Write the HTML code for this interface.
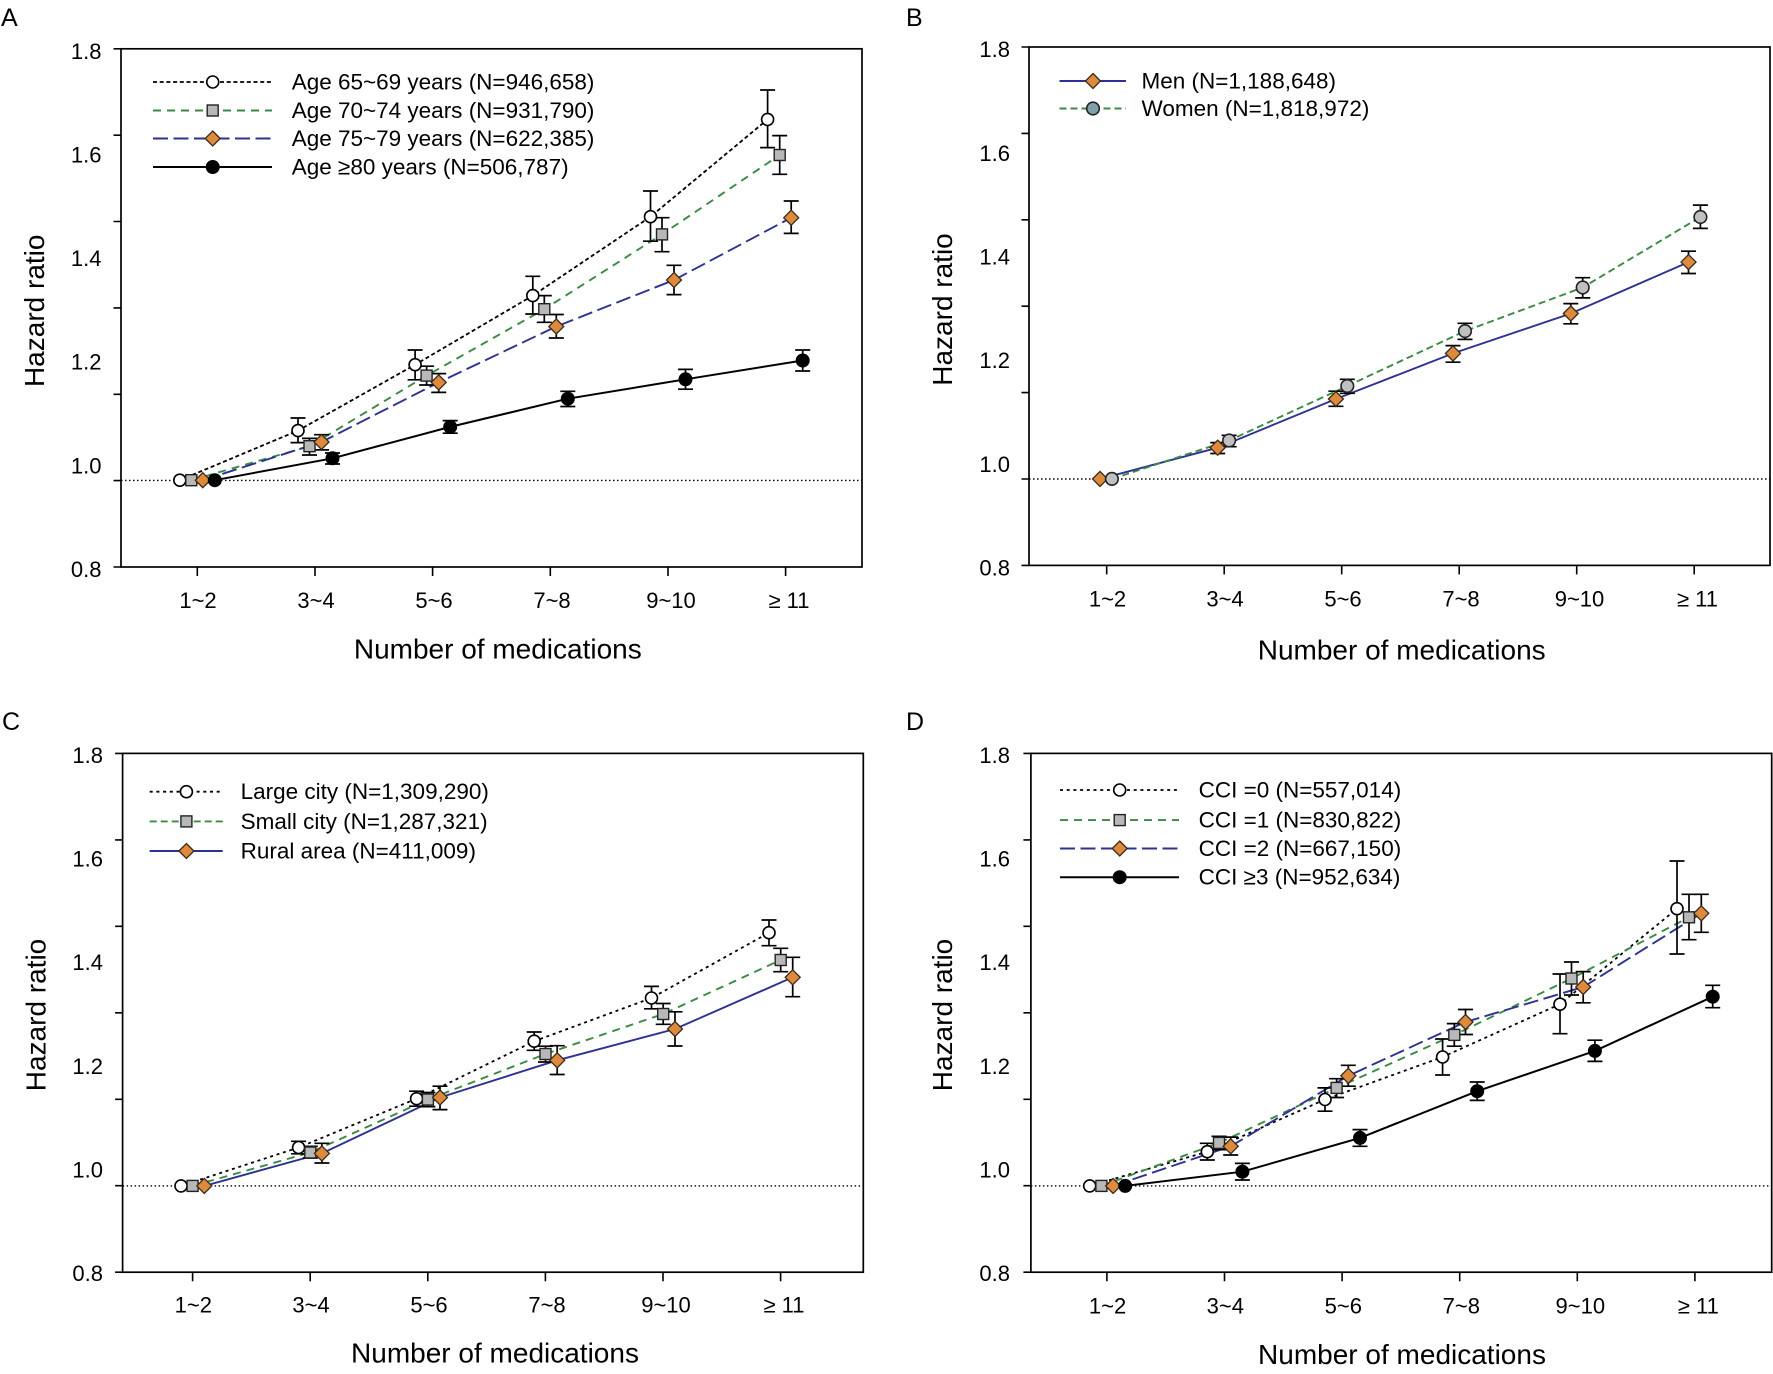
<!DOCTYPE html>
<html><head><meta charset="utf-8"><style>
html,body{margin:0;padding:0;background:#fff;}
svg{display:block;}
text{font-family:"Liberation Sans",Arial,sans-serif;fill:#000;}
.tl{font-size:22px;text-anchor:end;dominant-baseline:central;}
.xl{font-size:22px;text-anchor:middle;dominant-baseline:central;}
.tt{font-size:28px;text-anchor:middle;dominant-baseline:central;}
.lg{font-size:22.5px;dominant-baseline:central;}
.pl{font-size:25px;dominant-baseline:central;}
.fr{fill:none;stroke:#000;stroke-width:1.7;}
.tk{fill:none;stroke:#000;stroke-width:1.6;}
.ref{fill:none;stroke:#000;stroke-width:1.4;stroke-dasharray:1.5 2.5;}
.eb{fill:none;stroke:#000;stroke-width:1.7;}
.k1{fill:none;stroke:#000;stroke-width:1.8;stroke-dasharray:4 2.7;}
.k2{fill:none;stroke:#000;stroke-width:1.8;stroke-dasharray:3 3.7;}
.ks{fill:none;stroke:#000;stroke-width:2;}
.g1{fill:none;stroke:#3b8a43;stroke-width:1.9;stroke-dasharray:8 6;}
.g2{fill:none;stroke:#3b8a43;stroke-width:1.9;stroke-dasharray:7 4;}
.b1{fill:none;stroke:#2e3192;stroke-width:1.9;stroke-dasharray:15 5.5;}
.bs{fill:none;stroke:#2e3192;stroke-width:1.9;}
</style></head><body>
<svg width="1773" height="1374" viewBox="0 0 1773 1374" xmlns="http://www.w3.org/2000/svg">
<defs>
<g id="oc"><circle r="6" fill="#fff" stroke="#000" stroke-width="1.6"/></g>
<g id="fc"><circle r="7" fill="#000"/></g>
<g id="sq"><rect x="-5.5" y="-5.5" width="11" height="11" fill="#b8b8b8" stroke="#222" stroke-width="1.4"/></g>
<g id="di"><path d="M0,-7.5L7.5,0L0,7.5L-7.5,0Z" fill="#de8a3d" stroke="#3a2a1a" stroke-width="1.3"/></g>
<g id="gc"><circle r="6.3" fill="#c0c0c0" stroke="#222" stroke-width="1.6"/></g>
<g id="bc"><circle r="6.3" fill="#7f9faa" stroke="#222" stroke-width="1.6"/></g>
</defs>
<rect width="1773" height="1374" fill="#fff"/>

<!-- ================= PANEL A ================= -->
<text class="pl" x="1" y="18">A</text>
<line class="ref" x1="121" y1="480.4" x2="862" y2="480.4"/>
<rect class="fr" x="121" y="48.8" width="741" height="518.2"/>
<path class="tk" d="M113.5,48.8h7.5M113.5,135.2h7.5M113.5,221.5h7.5M113.5,307.9h7.5M113.5,394.3h7.5M113.5,480.6h7.5M113.5,567h7.5M197.3,567v9M315,567v9M432.6,567v9M550.3,567v9M668,567v9M785.6,567v9"/>
<text class="tl" x="101.5" y="51.4">1.8</text>
<text class="tl" x="101.5" y="155">1.6</text>
<text class="tl" x="101.5" y="258.6">1.4</text>
<text class="tl" x="101.5" y="362.2">1.2</text>
<text class="tl" x="101.5" y="465.8">1.0</text>
<text class="tl" x="101.5" y="569.4">0.8</text>
<text class="xl" x="198" y="600.5">1~2</text>
<text class="xl" x="316" y="600.5">3~4</text>
<text class="xl" x="434" y="600.5">5~6</text>
<text class="xl" x="552" y="600.5">7~8</text>
<text class="xl" x="671" y="600.5">9~10</text>
<text class="xl" x="789" y="600.5">≥ 11</text>
<text class="tt" x="497.8" y="649">Number of medications</text>
<text class="tt" transform="translate(34.5,310.8) rotate(-90)" x="0" y="0">Hazard ratio</text>

<!-- legend A -->
<line class="k1" x1="153" y1="82" x2="272" y2="82"/><use href="#oc" x="212.7" y="82"/>
<text class="lg" x="291.7" y="82">Age 65~69 years (N=946,658)</text>
<line class="g1" x1="153" y1="110.5" x2="272" y2="110.5"/><use href="#sq" x="212.7" y="110.5"/>
<text class="lg" x="291.7" y="110.5">Age 70~74 years (N=931,790)</text>
<line class="b1" x1="153" y1="138.5" x2="272" y2="138.5"/><use href="#di" x="212.7" y="138.5"/>
<text class="lg" x="291.7" y="138.5">Age 75~79 years (N=622,385)</text>
<line class="ks" x1="153" y1="167" x2="272" y2="167"/><use href="#fc" x="212.7" y="167"/>
<text class="lg" x="291.7" y="167">Age ≥80 years (N=506,787)</text>

<polyline class="k1" points="179.8,480.2 298,430.6 415.1,364.7 532.8,295.6 650.5,216.7 767.6,119.4"/>
<polyline class="g1" points="191.3,480.2 309.5,446.2 426.6,375.6 544.3,309.2 662,234.4 779.7,155"/>
<polyline class="b1" points="202.8,480.2 321.5,442 438.7,382.4 556.3,326.5 674,280 791.2,217.7"/>
<polyline class="ks" points="214.8,480.2 332.5,458.3 450.2,426.9 567.8,398.7 685.5,379.3 802.7,360.5"/>
<path class="eb" d="M298,418V442.6M290.5,418h15M290.5,442.6h15M415.1,350V379.8M407.6,350h15M407.6,379.8h15M532.8,276.3V314M525.3,276.3h15M525.3,314h15M650.5,191V241.2M643,191h15M643,241.2h15M767.6,90V147.6M760.1,90h15M760.1,147.6h15"/>
<path class="eb" d="M309.5,438.4V455M302,438.4h15M302,455h15M426.6,366.2V385M419.1,366.2h15M419.1,385h15M544.3,295.6V322.3M536.8,295.6h15M536.8,322.3h15M662,217.7V251.7M654.5,217.7h15M654.5,251.7h15M779.7,135.6V174.3M772.2,135.6h15M772.2,174.3h15"/>
<path class="eb" d="M321.5,434.7V449.9M314,434.7h15M314,449.9h15M438.7,373.6V392.4M431.2,373.6h15M431.2,392.4h15M556.3,314.5V338M548.8,314.5h15M548.8,338h15M674,265.3V294.6M666.5,265.3h15M666.5,294.6h15M791.2,201V233.4M783.7,201h15M783.7,233.4h15"/>
<path class="eb" d="M332.5,453V464M325,453h15M325,464h15M450.2,420.6V433.2M442.7,420.6h15M442.7,433.2h15M567.8,391.3V406.5M560.3,391.3h15M560.3,406.5h15M685.5,369.4V389.2M678,369.4h15M678,389.2h15M802.7,350V371M795.2,350h15M795.2,371h15"/>
<use href="#oc" x="179.8" y="480.2"/><use href="#oc" x="298" y="430.6"/><use href="#oc" x="415.1" y="364.7"/><use href="#oc" x="532.8" y="295.6"/><use href="#oc" x="650.5" y="216.7"/><use href="#oc" x="767.6" y="119.4"/>
<use href="#sq" x="191.3" y="480.2"/><use href="#sq" x="309.5" y="446.2"/><use href="#sq" x="426.6" y="375.6"/><use href="#sq" x="544.3" y="309.2"/><use href="#sq" x="662" y="234.4"/><use href="#sq" x="779.7" y="155"/>
<use href="#di" x="202.8" y="480.2"/><use href="#di" x="321.5" y="442"/><use href="#di" x="438.7" y="382.4"/><use href="#di" x="556.3" y="326.5"/><use href="#di" x="674" y="280"/><use href="#di" x="791.2" y="217.7"/>
<use href="#fc" x="214.8" y="480.2"/><use href="#fc" x="332.5" y="458.3"/><use href="#fc" x="450.2" y="426.9"/><use href="#fc" x="567.8" y="398.7"/><use href="#fc" x="685.5" y="379.3"/><use href="#fc" x="802.7" y="360.5"/>

<!-- ================= PANEL B ================= -->
<text class="pl" x="906" y="18">B</text>
<line class="ref" x1="1029" y1="479" x2="1770" y2="479"/>
<rect class="fr" x="1029" y="47" width="741" height="518.4"/>
<path class="tk" d="M1021.5,47h7.5M1021.5,133.4h7.5M1021.5,219.8h7.5M1021.5,306.2h7.5M1021.5,392.6h7.5M1021.5,479h7.5M1021.5,565.4h7.5M1106.7,565.4v9M1224.2,565.4v9M1341.7,565.4v9M1459.2,565.4v9M1576.7,565.4v9M1694.2,565.4v9"/>
<text class="tl" x="1010" y="49.6">1.8</text>
<text class="tl" x="1010" y="153.3">1.6</text>
<text class="tl" x="1010" y="257">1.4</text>
<text class="tl" x="1010" y="360.7">1.2</text>
<text class="tl" x="1010" y="464.4">1.0</text>
<text class="tl" x="1010" y="568.1">0.8</text>
<text class="xl" x="1107.5" y="599">1~2</text>
<text class="xl" x="1225" y="599">3~4</text>
<text class="xl" x="1343" y="599">5~6</text>
<text class="xl" x="1461" y="599">7~8</text>
<text class="xl" x="1579.5" y="599">9~10</text>
<text class="xl" x="1697.5" y="599">≥ 11</text>
<text class="tt" x="1401.7" y="650">Number of medications</text>
<text class="tt" transform="translate(942.5,309.5) rotate(-90)" x="0" y="0">Hazard ratio</text>

<line class="bs" x1="1059.5" y1="81" x2="1126" y2="81"/><use href="#di" x="1093" y="81"/>
<text class="lg" x="1141.5" y="81">Men (N=1,188,648)</text>
<line class="g2" x1="1059.5" y1="108.5" x2="1126" y2="108.5"/><use href="#bc" x="1093" y="108.5"/>
<text class="lg" x="1141.5" y="108.5">Women (N=1,818,972)</text>

<polyline class="bs" points="1100,478.9 1217.7,447.7 1335.9,399 1453,353.4 1570.8,313.5 1688.5,262.1"/>
<polyline class="g2" points="1111.9,478.9 1229.1,440.5 1347.3,386 1465,331.1 1582.7,287.5 1700.4,217"/>
<path class="eb" d="M1217.7,442.6V453.5M1210.2,442.6h15M1210.2,453.5h15M1335.9,391.2V406.3M1328.4,391.2h15M1328.4,406.3h15M1453,345.6V362.2M1445.5,345.6h15M1445.5,362.2h15M1570.8,303.6V323.8M1563.3,303.6h15M1563.3,323.8h15M1688.5,251.2V273.5M1681,251.2h15M1681,273.5h15"/>
<path class="eb" d="M1229.1,435.3V446.7M1221.6,435.3h15M1221.6,446.7h15M1347.3,379.3V393.3M1339.8,379.3h15M1339.8,393.3h15M1465,323.3V339.4M1457.5,323.3h15M1457.5,339.4h15M1582.7,277.7V297.9M1575.2,277.7h15M1575.2,297.9h15M1700.4,205.1V228.4M1692.9,205.1h15M1692.9,228.4h15"/>
<use href="#di" x="1100" y="478.9"/><use href="#di" x="1217.7" y="447.7"/><use href="#di" x="1335.9" y="399"/><use href="#di" x="1453" y="353.4"/><use href="#di" x="1570.8" y="313.5"/><use href="#di" x="1688.5" y="262.1"/>
<use href="#gc" x="1111.9" y="478.9"/><use href="#gc" x="1229.1" y="440.5"/><use href="#gc" x="1347.3" y="386"/><use href="#gc" x="1465" y="331.1"/><use href="#gc" x="1582.7" y="287.5"/><use href="#gc" x="1700.4" y="217"/>

<!-- ================= PANEL C ================= -->
<text class="pl" x="2" y="722">C</text>
<line class="ref" x1="122.6" y1="1185.9" x2="863.3" y2="1185.9"/>
<rect class="fr" x="122.6" y="753.4" width="740.7" height="518.8"/>
<path class="tk" d="M115.1,753.4h7.5M115.1,839.9h7.5M115.1,926.3h7.5M115.1,1012.8h7.5M115.1,1099.3h7.5M115.1,1185.7h7.5M115.1,1272.2h7.5M192.6,1272.2v9M310.2,1272.2v9M427.8,1272.2v9M545.4,1272.2v9M663,1272.2v9M780.6,1272.2v9"/>
<text class="tl" x="103" y="755.5">1.8</text>
<text class="tl" x="103" y="859.1">1.6</text>
<text class="tl" x="103" y="962.7">1.4</text>
<text class="tl" x="103" y="1066.3">1.2</text>
<text class="tl" x="103" y="1169.9">1.0</text>
<text class="tl" x="103" y="1273.5">0.8</text>
<text class="xl" x="193.3" y="1305.2">1~2</text>
<text class="xl" x="311" y="1305.2">3~4</text>
<text class="xl" x="429" y="1305.2">5~6</text>
<text class="xl" x="547" y="1305.2">7~8</text>
<text class="xl" x="666" y="1305.2">9~10</text>
<text class="xl" x="784" y="1305.2">≥ 11</text>
<text class="tt" x="495" y="1353">Number of medications</text>
<text class="tt" transform="translate(36,1015) rotate(-90)" x="0" y="0">Hazard ratio</text>

<line class="k2" x1="149.7" y1="791.7" x2="222.7" y2="791.7"/><use href="#oc" x="186.4" y="791.7"/>
<text class="lg" x="240.6" y="791.7">Large city (N=1,309,290)</text>
<line class="g2" x1="149.7" y1="821.4" x2="222.7" y2="821.4"/><use href="#sq" x="186.4" y="821.4"/>
<text class="lg" x="240.6" y="821.4">Small city (N=1,287,321)</text>
<line class="bs" x1="149.7" y1="851" x2="222.7" y2="851"/><use href="#di" x="186.4" y="851"/>
<text class="lg" x="240.6" y="851">Rural area (N=411,009)</text>

<polyline class="k2" points="181,1185.9 298.6,1147.5 416.6,1098.7 534.2,1041.2 651.5,998 769,932.7"/>
<polyline class="g1" points="192.6,1185.9 310.3,1152.5 427.9,1099.5 545.5,1054 663.2,1014 780.7,960"/>
<polyline class="bs" points="204.3,1185.9 321.9,1153.4 440,1097.5 557.2,1060.3 675,1029 792.7,977.3"/>
<path class="eb" d="M298.6,1141.3V1153.8M291.1,1141.3h15M291.1,1153.8h15M416.6,1091.2V1106.2M409.1,1091.2h15M409.1,1106.2h15M534.2,1032V1050.3M526.7,1032h15M526.7,1050.3h15M651.5,986.4V1008.8M644,986.4h15M644,1008.8h15M769,920V945.7M761.5,920h15M761.5,945.7h15"/>
<path class="eb" d="M310.3,1146.3V1158M302.8,1146.3h15M302.8,1158h15M427.9,1092.5V1106.6M420.4,1092.5h15M420.4,1106.6h15M545.5,1046.2V1062M538,1046.2h15M538,1062h15M663.2,1003.5V1024.3M655.7,1003.5h15M655.7,1024.3h15M780.7,948.3V971.7M773.2,948.3h15M773.2,971.7h15"/>
<path class="eb" d="M321.9,1143.3V1163M314.4,1143.3h15M314.4,1163h15M440,1086.2V1109.6M432.5,1086.2h15M432.5,1109.6h15M557.2,1045.7V1074.5M549.7,1045.7h15M549.7,1074.5h15M675,1011.8V1046M667.5,1011.8h15M667.5,1046h15M792.7,957.3V996.7M785.2,957.3h15M785.2,996.7h15"/>
<use href="#oc" x="181" y="1185.9"/><use href="#oc" x="298.6" y="1147.5"/><use href="#oc" x="416.6" y="1098.7"/><use href="#oc" x="534.2" y="1041.2"/><use href="#oc" x="651.5" y="998"/><use href="#oc" x="769" y="932.7"/>
<use href="#sq" x="192.6" y="1185.9"/><use href="#sq" x="310.3" y="1152.5"/><use href="#sq" x="427.9" y="1099.5"/><use href="#sq" x="545.5" y="1054"/><use href="#sq" x="663.2" y="1014"/><use href="#sq" x="780.7" y="960"/>
<use href="#di" x="204.3" y="1185.9"/><use href="#di" x="321.9" y="1153.4"/><use href="#di" x="440" y="1097.5"/><use href="#di" x="557.2" y="1060.3"/><use href="#di" x="675" y="1029"/><use href="#di" x="792.7" y="977.3"/>

<!-- ================= PANEL D ================= -->
<text class="pl" x="906" y="722">D</text>
<line class="ref" x1="1030.9" y1="1185.9" x2="1771.7" y2="1185.9"/>
<rect class="fr" x="1030.9" y="753.4" width="740.8" height="518.8"/>
<path class="tk" d="M1023.4,753.4h7.5M1023.4,839.9h7.5M1023.4,926.3h7.5M1023.4,1012.8h7.5M1023.4,1099.3h7.5M1023.4,1185.7h7.5M1023.4,1272.2h7.5M1106.9,1272.2v9M1224.5,1272.2v9M1342.1,1272.2v9M1459.7,1272.2v9M1577.3,1272.2v9M1694.9,1272.2v9"/>
<text class="tl" x="1010" y="755.5">1.8</text>
<text class="tl" x="1010" y="859.1">1.6</text>
<text class="tl" x="1010" y="962.7">1.4</text>
<text class="tl" x="1010" y="1066.3">1.2</text>
<text class="tl" x="1010" y="1169.9">1.0</text>
<text class="tl" x="1010" y="1273.5">0.8</text>
<text class="xl" x="1107.6" y="1306">1~2</text>
<text class="xl" x="1225.3" y="1306">3~4</text>
<text class="xl" x="1343.3" y="1306">5~6</text>
<text class="xl" x="1461.3" y="1306">7~8</text>
<text class="xl" x="1580.3" y="1306">9~10</text>
<text class="xl" x="1698.3" y="1306">≥ 11</text>
<text class="tt" x="1402" y="1354.5">Number of medications</text>
<text class="tt" transform="translate(942.5,1015) rotate(-90)" x="0" y="0">Hazard ratio</text>

<line class="k2" x1="1060" y1="790" x2="1179" y2="790"/><use href="#oc" x="1119.7" y="790"/>
<text class="lg" x="1198.6" y="790">CCI =0 (N=557,014)</text>
<line class="g1" x1="1060" y1="820.1" x2="1179" y2="820.1"/><use href="#sq" x="1119.7" y="820.1"/>
<text class="lg" x="1198.6" y="820.1">CCI =1 (N=830,822)</text>
<line class="b1" x1="1060" y1="848.5" x2="1179" y2="848.5"/><use href="#di" x="1119.7" y="848.5"/>
<text class="lg" x="1198.6" y="848.5">CCI =2 (N=667,150)</text>
<line class="ks" x1="1060" y1="877.2" x2="1179" y2="877.2"/><use href="#fc" x="1119.7" y="877.2"/>
<text class="lg" x="1198.6" y="877.2">CCI ≥3 (N=952,634)</text>

<polyline class="k2" points="1089.7,1185.9 1207.3,1151.7 1325,1099.5 1442.6,1057 1560,1004.2 1677,908.7"/>
<polyline class="g1" points="1101.4,1185.9 1219,1142.9 1336.6,1087.9 1454.3,1034.9 1571.5,978.5 1689,917.3"/>
<polyline class="b1" points="1113.1,1185.9 1230.7,1146.3 1348.3,1075.8 1465.5,1022 1583.2,987 1701.3,913.3"/>
<polyline class="ks" points="1125.2,1185.9 1242.4,1171.7 1360,1137.9 1477.2,1091.2 1594.9,1050.9 1712.7,996.7"/>
<path class="eb" d="M1207.3,1143.3V1160M1199.8,1143.3h15M1199.8,1160h15M1325,1087.9V1111.2M1317.5,1087.9h15M1317.5,1111.2h15M1442.6,1039V1075M1435.1,1039h15M1435.1,1075h15M1560,974V1033.7M1552.5,974h15M1552.5,1033.7h15M1677,861V954M1669.5,861h15M1669.5,954h15"/>
<path class="eb" d="M1219,1136.3V1149.6M1211.5,1136.3h15M1211.5,1149.6h15M1336.6,1078.7V1097.5M1329.1,1078.7h15M1329.1,1097.5h15M1454.3,1023.6V1046.2M1446.8,1023.6h15M1446.8,1046.2h15M1571.5,962V995M1564,962h15M1564,995h15M1689,894.3V939.7M1681.5,894.3h15M1681.5,939.7h15"/>
<path class="eb" d="M1230.7,1137.1V1155M1223.2,1137.1h15M1223.2,1155h15M1348.3,1065.3V1086.2M1340.8,1065.3h15M1340.8,1086.2h15M1465.5,1009.5V1034.5M1458,1009.5h15M1458,1034.5h15M1583.2,971.6V1002.8M1575.7,971.6h15M1575.7,1002.8h15M1701.3,894.3V932.3M1693.8,894.3h15M1693.8,932.3h15"/>
<path class="eb" d="M1242.4,1163.4V1180M1234.9,1163.4h15M1234.9,1180h15M1360,1129.6V1146.3M1352.5,1129.6h15M1352.5,1146.3h15M1477.2,1082V1100.4M1469.7,1082h15M1469.7,1100.4h15M1594.9,1040.2V1061.4M1587.4,1040.2h15M1587.4,1061.4h15M1712.7,985.3V1007.7M1705.2,985.3h15M1705.2,1007.7h15"/>
<use href="#oc" x="1089.7" y="1185.9"/><use href="#oc" x="1207.3" y="1151.7"/><use href="#oc" x="1325" y="1099.5"/><use href="#oc" x="1442.6" y="1057"/><use href="#oc" x="1560" y="1004.2"/><use href="#oc" x="1677" y="908.7"/>
<use href="#sq" x="1101.4" y="1185.9"/><use href="#sq" x="1219" y="1142.9"/><use href="#sq" x="1336.6" y="1087.9"/><use href="#sq" x="1454.3" y="1034.9"/><use href="#sq" x="1571.5" y="978.5"/><use href="#sq" x="1689" y="917.3"/>
<use href="#di" x="1113.1" y="1185.9"/><use href="#di" x="1230.7" y="1146.3"/><use href="#di" x="1348.3" y="1075.8"/><use href="#di" x="1465.5" y="1022"/><use href="#di" x="1583.2" y="987"/><use href="#di" x="1701.3" y="913.3"/>
<use href="#fc" x="1125.2" y="1185.9"/><use href="#fc" x="1242.4" y="1171.7"/><use href="#fc" x="1360" y="1137.9"/><use href="#fc" x="1477.2" y="1091.2"/><use href="#fc" x="1594.9" y="1050.9"/><use href="#fc" x="1712.7" y="996.7"/>
</svg>
</body></html>
